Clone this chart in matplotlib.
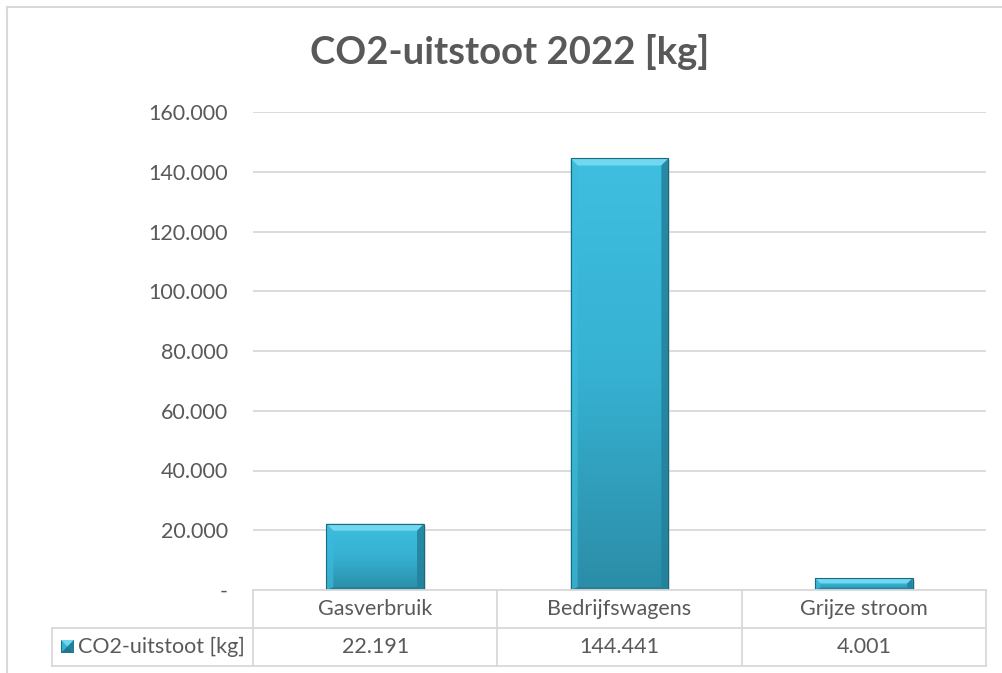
import matplotlib
matplotlib.use("Agg")
import matplotlib.pyplot as plt
import numpy as np
from matplotlib.patches import Polygon, Rectangle
from matplotlib.lines import Line2D
from matplotlib.colors import LinearSegmentedColormap

categories = ["Gasverbruik", "Bedrijfswagens", "Grijze stroom"]
values = [22191, 144441, 4001]
value_labels = ["22.191", "144.441", "4.001"]
series_name = "CO2-uitstoot [kg]"
title = "CO2-uitstoot 2022 [kg]"
yticks = [0, 20000, 40000, 60000, 80000, 100000, 120000, 140000, 160000]
ytick_labels = ["-", "20.000", "40.000", "60.000", "80.000", "100.000", "120.000", "140.000", "160.000"]

FONT = ["Lato", "DejaVu Sans"]
plt.rcParams['font.family'] = FONT
TXT = "#595959"
GRID = "#d9d9d9"
FS = 15.5

W, H = 1002, 673
fig = plt.figure(figsize=(W / 100, H / 100), dpi=100)
fig.patch.set_facecolor("white")

def fx(px):
    return px / W

def fy(py):
    return 1 - py / H

ax_l, ax_r, ax_t, ax_b = 253, 986, 112, 590
ax = fig.add_axes([fx(ax_l), fy(ax_b), fx(ax_r) - fx(ax_l), fy(ax_t) - fy(ax_b)])
ax.set_xlim(-0.5, len(categories) - 0.5)
ax.set_ylim(0, 160000)
for s in ax.spines.values():
    s.set_visible(False)
ax.set_xticks([])
ax.set_yticks(yticks)
ax.set_yticklabels(ytick_labels, color=TXT, fontsize=FS)
ax.tick_params(axis="y", length=0, pad=18)
for y in yticks:
    ax.axhline(y, color=GRID, lw=1.3, zorder=0)

bar_w = 0.40
fig.canvas.draw()
inv = ax.transData.inverted()
p0 = inv.transform((0, 0))
p1 = inv.transform((1, 1))
dxp = p1[0] - p0[0]
dyp = p1[1] - p0[1]

cmap = LinearSegmentedColormap.from_list("bar", ["#2b8da7", "#36b1d2", "#3fbfe0"])

for i, v in enumerate(values):
    x0, x1 = i - bar_w / 2, i + bar_w / 2
    sh = Rectangle((x0 + 2 * dxp, 0), bar_w, v - 2 * dyp, facecolor="#bfbfbf", edgecolor="none", alpha=0.5, zorder=2)
    ax.add_patch(sh)
    rect = Rectangle((x0, 0), bar_w, v, facecolor="#36b2d3", edgecolor="none", zorder=3)
    ax.add_patch(rect)
    grad = np.linspace(0, 1, 256).reshape(-1, 1)
    im = ax.imshow(grad, extent=(x0, x1, 0, v), origin="lower", aspect="auto", cmap=cmap, zorder=3.5)
    im.set_clip_path(rect)
    b = min(7, max(3, 0.45 * v / dyp))
    bx, by = b * dxp, b * dyp
    top = Polygon([(x0, v), (x1, v), (x1 - bx, v - by), (x0 + bx, v - by)], closed=True,
                  facecolor="#72d8ef", edgecolor="none", zorder=4)
    left = Polygon([(x0, 0), (x0, v), (x0 + bx, v - by), (x0 + bx, by * 0.4)], closed=True,
                   facecolor="#3cbadb", edgecolor="none", alpha=0.7, zorder=4)
    right = Polygon([(x1, 0), (x1, v), (x1 - bx, v - by), (x1 - bx, by * 0.4)], closed=True,
                    facecolor="#23809a", edgecolor="none", alpha=0.85, zorder=4)
    bottom = Polygon([(x0, 0), (x1, 0), (x1 - bx, by * 0.4), (x0 + bx, by * 0.4)], closed=True,
                     facecolor="#22798f", edgecolor="none", alpha=0.7, zorder=4)
    for p in (top, left, right, bottom):
        ax.add_patch(p)
    ax.add_patch(Rectangle((x0, 0), bar_w, v, facecolor="none", edgecolor="#1d6a80", lw=0.8, zorder=5))

# title
fig.text(fx(510), fy(52), title, ha="center", va="center", fontsize=27.5, fontweight="bold", color=TXT)

# outer frame (top and left visible)
fig.add_artist(Line2D([fx(7), fx(7)], [fy(7), 0], color=GRID, lw=1.5))
fig.add_artist(Line2D([fx(7), 1], [fy(7), fy(7)], color=GRID, lw=1.5))

# data table
row1_top, row1_bot, row2_bot = 590, 628, 666
cols = np.linspace(ax_l, ax_r, len(categories) + 1)
leg_l = 52
def hline(x_a, x_b, y):
    fig.add_artist(Line2D([fx(x_a), fx(x_b)], [fy(y), fy(y)], color=GRID, lw=1.3))
def vline(x, y_a, y_b):
    fig.add_artist(Line2D([fx(x), fx(x)], [fy(y_a), fy(y_b)], color=GRID, lw=1.3))
hline(ax_l, ax_r, row1_top)
hline(leg_l, ax_r, row1_bot)
hline(leg_l, ax_r, row2_bot)
for c in cols:
    vline(c, row1_top, row2_bot)
vline(leg_l, row1_bot, row2_bot)
for i, (cat, lab) in enumerate(zip(categories, value_labels)):
    xc = (cols[i] + cols[i + 1]) / 2
    fig.text(fx(xc), fy((row1_top + row1_bot) / 2), cat, ha="center", va="center", fontsize=FS, color=TXT)
    fig.text(fx(xc), fy((row1_bot + row2_bot) / 2), lab, ha="center", va="center", fontsize=FS, color=TXT)

# legend key
kx, ky, ks = 61, 640, 13
kax = fig.add_axes([fx(kx), fy(ky + ks), fx(ks), ks / H])
kax.set_axis_off()
kax.set_xlim(0, 1); kax.set_ylim(0, 1)
kax.add_patch(Rectangle((0, 0), 1, 1, facecolor="#36b2d3", edgecolor="#1e6e84", lw=0.8))
kax.add_patch(Polygon([(0, 1), (1, 1), (0.5, 0.5)], facecolor="#6fd6ee", edgecolor="none"))
kax.add_patch(Polygon([(1, 0), (1, 1), (0.5, 0.5)], facecolor="#237f98", edgecolor="none"))
kax.add_patch(Polygon([(0, 0), (1, 0), (0.5, 0.5)], facecolor="#1f768e", edgecolor="none"))
fig.text(fx(78), fy((row1_bot + row2_bot) / 2), series_name, ha="left", va="center", fontsize=FS, color=TXT)

fig.savefig("out.png", dpi=100, facecolor="white")
